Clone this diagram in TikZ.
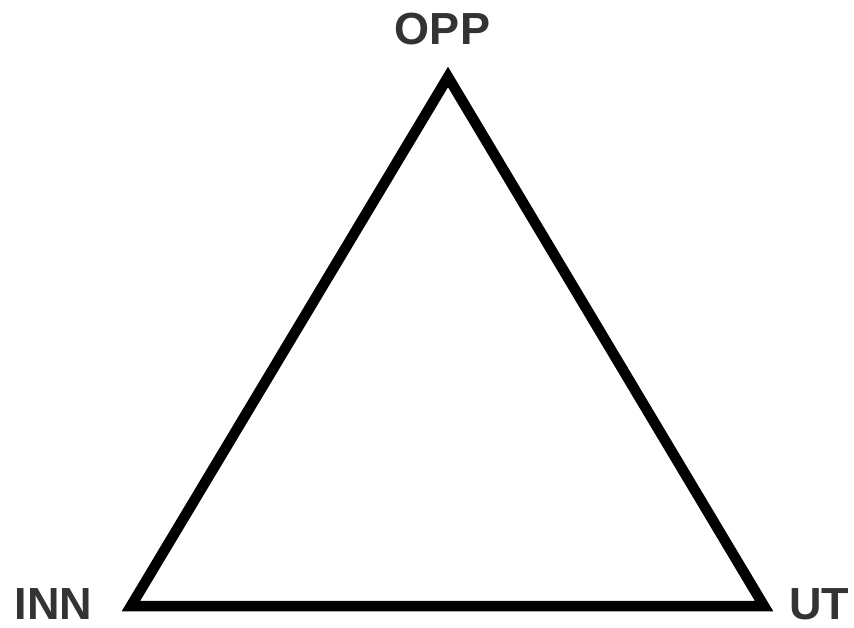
\documentclass[tikz,border=0pt]{standalone}
\usepackage{fontspec}
\setmainfont{Liberation Sans}
\definecolor{labelgray}{HTML}{333333}
\begin{document}
\begin{tikzpicture}[x=1pt,y=-1pt,
  lbl/.style={inner sep=0pt,text=labelgray,font=\fontsize{45}{45}\selectfont\bfseries,anchor=center}]
\useasboundingbox (0,0) rectangle (854,627);
\coordinate (top) at (448,77);
\coordinate (bl) at (131,606);
\coordinate (br) at (764,606);
\draw[line width=10.5pt,line join=miter] (top) -- (br) -- (bl) -- cycle;
\node[lbl] (opp) at (442.5,29.5) {OPP};
\node[lbl] (inn) at (53.5,604) {INN};
\node[lbl] (ut) at (819,604) {UT};
\end{tikzpicture}
\end{document}
